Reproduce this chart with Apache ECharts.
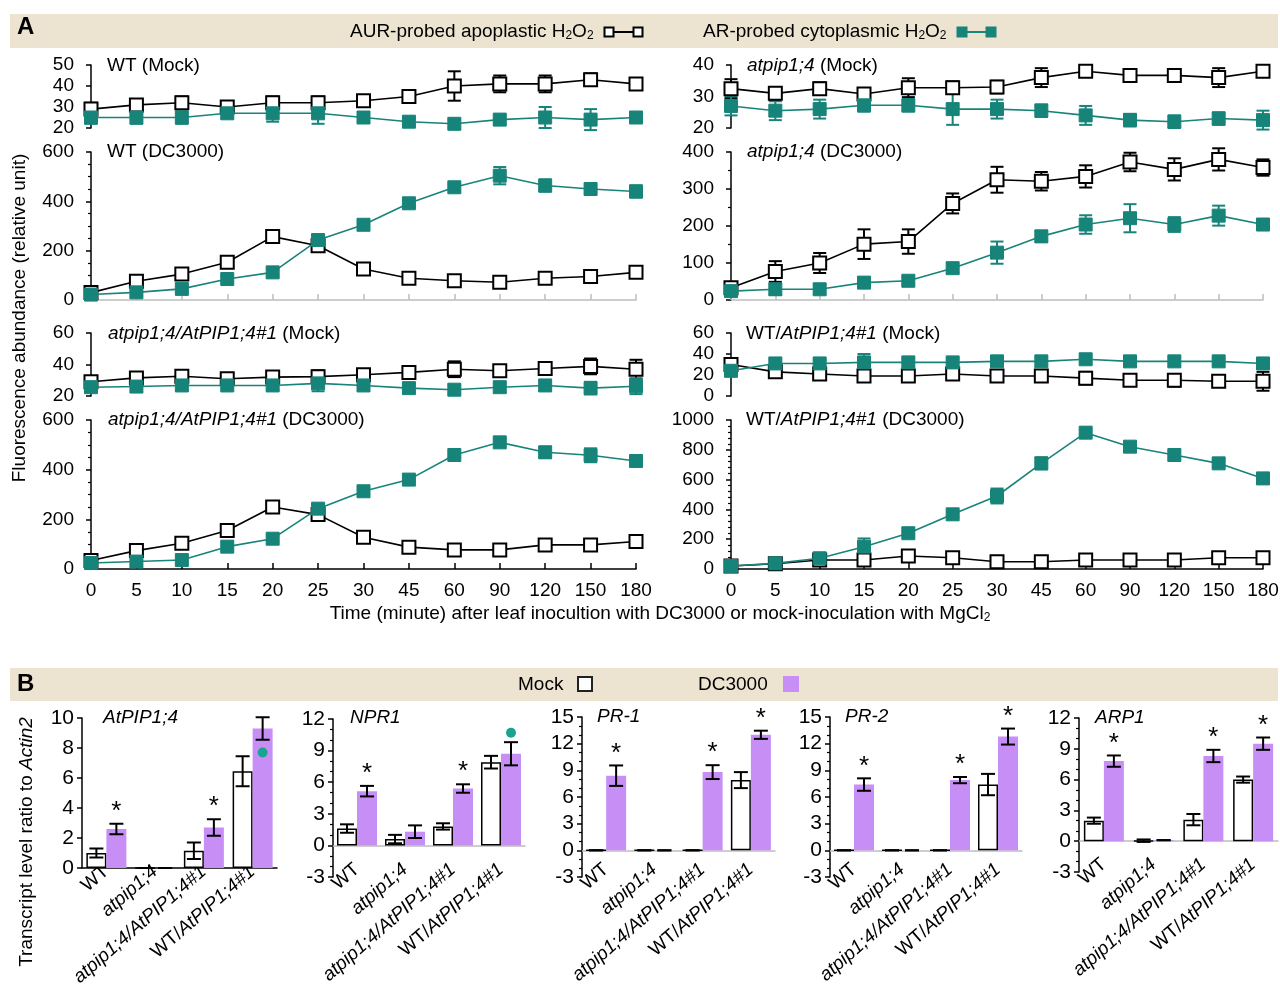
<!DOCTYPE html>
<html>
<head>
<meta charset="utf-8">
<title>H2O2 time course and defense gene transcripts</title>
<script src="https://cdn.jsdelivr.net/npm/echarts@6/dist/echarts.min.js"></script>
<style>
  html, body { margin: 0; padding: 0; background: #fff; }
  #main { width: 1280px; height: 996px; }
</style>
</head>
<body>
<div id="main"></div>
<script>
// ---- A: time points (minute) ----
const times = ['0', '5', '10', '15', '20', '25', '30', '45', '60', '90', '120', '150', '180'];

// AUR = apoplastic H2O2 (open squares), AR = cytoplasmic H2O2 (teal squares)
const wtMockAur = [29, 31, 32, 30, 32, 32, 33, 35, 40, 41, 41, 43, 41];
const wtMockAurSd = [3, 2, 3, 1, 3, 3, 2, 2, 7, 4, 4, 3, 2];
const wtMockAr = [25, 25, 25, 27, 27, 27, 25, 23, 22, 24, 25, 24, 25];
const wtMockArSd = [3, 3, 3, 2, 4, 5, 2, 2, 2, 2, 5, 5, 2];

const atMockAur = [32.5, 31, 32.5, 30.8, 32.8, 32.8, 33, 36, 38, 36.7, 36.7, 36, 38];
const atMockAurSd = [3, 2, 2, 1, 3, 2, 2, 3, 1, 1, 1, 3, 1];
const atMockAr = [27, 25.5, 26, 27.2, 27.2, 26, 26, 25.5, 24, 22.5, 22, 23, 22.5];
const atMockArSd = [3, 3, 3, 2, 2, 5, 3, 2, 3, 2, 2, 2, 3];

const wtDcAur = [30, 76, 105, 153, 257, 220, 126, 88, 78, 72, 88, 95, 112];
const wtDcAurSd = [10, 10, 15, 12, 12, 12, 20, 12, 10, 15, 10, 10, 15];
const wtDcAr = [22, 31, 45, 85, 112, 243, 305, 392, 457, 504, 464, 450, 440];
const wtDcArSd = [10, 12, 12, 12, 12, 15, 20, 15, 12, 35, 25, 15, 25];

const atDcAur = [33, 77, 100, 151, 158, 261, 325, 321, 334, 373, 353, 380, 358];
const atDcAurSd = [10, 28, 27, 40, 33, 27, 35, 25, 30, 25, 30, 30, 22];
const atDcAr = [24, 29, 29, 47, 52, 86, 128, 172, 204, 221, 204, 228, 204];
const atDcArSd = [12, 15, 12, 10, 10, 12, 30, 15, 25, 38, 20, 27, 15];

const compMockAur = [29, 31.5, 32.5, 31, 32, 32.3, 33.5, 35, 37, 36, 37.5, 38.8, 37];
const compMockAurSd = [3, 3, 3, 3, 2, 4, 3, 3, 5, 3, 4, 5, 6];
const compMockAr = [25.6, 26, 26.7, 26.7, 26.7, 28, 26.7, 25, 24, 25.6, 26.7, 25, 26.2];
const compMockArSd = [3, 3, 3, 2, 3, 5, 3, 3, 3, 3, 3, 4, 5];

const oeMockAur = [30, 23, 21, 19, 19, 21, 19, 19, 17, 15, 15, 14, 14];
const oeMockAurSd = [5, 3, 3, 3, 3, 3, 3, 5, 6, 3, 6, 3, 9];
const oeMockAr = [24, 31, 31, 32, 32, 32, 33, 33, 35, 33, 33, 33, 31];
const oeMockArSd = [5, 4, 4, 8, 4, 4, 4, 4, 3, 3, 4, 3, 5];

const compDcAur = [34, 74, 104, 155, 250, 219, 128, 88, 77, 77, 97, 97, 111];
const compDcAurSd = [8, 10, 10, 10, 10, 10, 10, 8, 8, 8, 8, 8, 8];
const compDcAr = [24, 30, 36, 90, 122, 243, 313, 360, 459, 510, 470, 458, 435];
const compDcArSd = [10, 12, 15, 12, 12, 12, 12, 12, 10, 12, 22, 28, 18];

const oeDcAur = [20, 35, 60, 60, 87, 76, 49, 49, 60, 60, 60, 76, 76];
const oeDcAurSd = [10, 10, 12, 10, 12, 12, 10, 10, 10, 10, 12, 12, 25];
const oeDcAr = [20, 38, 72, 150, 240, 367, 490, 709, 915, 821, 765, 709, 608];
const oeDcArSd = [15, 15, 20, 55, 15, 15, 50, 40, 20, 25, 25, 25, 20];

// ---- B: transcript level ratio to Actin2 ----
const genotypes = ['WT', 'atpip1;4', 'atpip1;4/AtPIP1;4#1', 'WT/AtPIP1;4#1'];

const pipMock = [1.0, 0, 1.15, 6.45];
const pipMockSd = [0.3, 0, 0.55, 1.0];
const pipDc = [2.6, 0, 2.7, 9.3];
const pipDcSd = [0.35, 0, 0.55, 0.75];
const pipStar = [1, 0, 1, 0];
const pipDot = [null, null, null, 7.7];

const nprMock = [1.6, 0.6, 1.8, 7.9];
const nprMockSd = [0.4, 0.4, 0.3, 0.6];
const nprDc = [5.15, 1.3, 5.4, 8.7];
const nprDcSd = [0.5, 0.6, 0.4, 1.1];
const nprStar = [1, 0, 1, 0];
const nprDot = [null, null, null, 10.7];

const pr1Mock = [0, 0, 0, 7.9];
const pr1MockSd = [0, 0, 0, 0.9];
const pr1Dc = [8.4, 0, 8.8, 13.0];
const pr1DcSd = [1.15, 0, 0.78, 0.46];
const pr1Star = [1, 0, 1, 1];

const pr2Mock = [0, 0, 0, 7.4];
const pr2MockSd = [0, 0, 0, 1.2];
const pr2Dc = [7.4, 0, 7.9, 12.8];
const pr2DcSd = [0.7, 0, 0.35, 0.9];
const pr2Star = [1, 0, 1, 1];

const arpMock = [2.0, 0.05, 2.1, 6.0];
const arpMockSd = [0.3, 0.12, 0.55, 0.3];
const arpDc = [7.8, 0.1, 8.3, 9.5];
const arpDcSd = [0.55, 0, 0.6, 0.6];
const arpStar = [1, 0, 1, 1];

const TEAL = '#17847a';
const PURPLE = '#c78ff6';
const BEIGE = '#ece4d1';
const GREY = '#bdbdbd';
const FONT = '"Liberation Sans", Arial, sans-serif';

const grids = [], xAxes = [], yAxes = [], series = [];

function errSeries(i, mean, sd, color, dx, cap, stars, dots) {
  return {
    type: 'custom', xAxisIndex: i, yAxisIndex: i, z: 5, silent: true, clip: false,
    data: mean.map((m, k) => [k, m, sd[k]]),
    renderItem: function (params, api) {
      const k = api.value(0), m = api.value(1), s = api.value(2);
      const hi = api.coord([k, m + s]);
      const lo = api.coord([k, m - s]);
      const x = hi[0] + dx, w = cap / 2;
      const st = { stroke: color, lineWidth: 2 };
      const kids = [
        { type: 'line', shape: { x1: x, y1: hi[1], x2: x, y2: lo[1] }, style: st },
        { type: 'line', shape: { x1: x - w, y1: hi[1], x2: x + w, y2: hi[1] }, style: st },
        { type: 'line', shape: { x1: x - w, y1: lo[1], x2: x + w, y2: lo[1] }, style: st }
      ];
      const idx = params.dataIndex;
      if (stars && stars[idx]) {
        kids.push({ type: 'text', x: x, y: hi[1] - 12,
          style: { text: '*', fontSize: 26, fontFamily: FONT, fill: '#000', align: 'center', verticalAlign: 'middle' } });
      }
      if (dots && dots[idx] != null) {
        const p = api.coord([k, dots[idx]]);
        kids.push({ type: 'circle', shape: { cx: x, cy: p[1], r: 5 }, style: { fill: '#1aa391' } });
      }
      return { type: 'group', children: kids };
    }
  };
}

function lineSeries(i, data, open) {
  return {
    type: 'line', xAxisIndex: i, yAxisIndex: i, data: data, z: open ? 6 : 7, silent: true,
    symbol: 'rect', symbolSize: 13,
    lineStyle: { color: open ? '#000' : TEAL, width: 1.6 },
    itemStyle: open
      ? { color: '#fff', borderColor: '#000', borderWidth: 2 }
      : { color: TEAL, borderColor: TEAL, borderWidth: 1 }
  };
}

function addGrid(box) {
  grids.push({ left: box[0], top: box[1], width: box[2], height: box[3], containLabel: false, outerBoundsMode: 'none' });
  return grids.length - 1;
}

// xMode: 'none' (mock rows), 'grey' (upper DC rows), 'label' (bottom rows)
function linePanel(box, ymin, ymax, step, minor, xMode, aur, aurSd, ar, arSd) {
  const i = addGrid(box);
  const axCol = xMode === 'label' ? '#000' : GREY;
  xAxes.push({
    gridIndex: i, type: 'category', data: times, boundaryGap: false, show: xMode !== 'none',
    axisLine: { lineStyle: { color: axCol, width: 1.5 } },
    axisTick: { inside: true, length: 6, lineStyle: { color: axCol, width: 1.5 } },
    axisLabel: { show: xMode === 'label', color: '#000', fontSize: 19, fontFamily: FONT, margin: 12 },
    splitLine: { show: false }
  });
  yAxes.push({
    gridIndex: i, type: 'value', min: ymin, max: ymax, interval: step,
    axisLine: { show: true, lineStyle: { color: '#000', width: 1.5 } },
    axisTick: { show: true, length: 5, lineStyle: { color: '#000', width: 1.5 } },
    minorTick: { show: minor > 0, splitNumber: minor || 5, length: 3, lineStyle: { color: '#000', width: 1.2 } },
    axisLabel: { color: '#000', fontSize: 19, fontFamily: FONT, margin: 17, formatter: v => String(v) },
    splitLine: { show: false }
  });
  series.push(errSeries(i, aur, aurSd, '#000', 0, 13));
  series.push(errSeries(i, ar, arSd, TEAL, 0, 13));
  series.push(lineSeries(i, aur, true));
  series.push(lineSeries(i, ar, false));
}

const LEFT = [91, 545], RIGHT = [731, 532];
linePanel([LEFT[0], 65, LEFT[1], 63], 20, 50, 10, 0, 'none', wtMockAur, wtMockAurSd, wtMockAr, wtMockArSd);
linePanel([RIGHT[0], 65, RIGHT[1], 63], 20, 40, 10, 0, 'none', atMockAur, atMockAurSd, atMockAr, atMockArSd);
linePanel([LEFT[0], 152, LEFT[1], 148], 0, 600, 200, 4, 'grey', wtDcAur, wtDcAurSd, wtDcAr, wtDcArSd);
linePanel([RIGHT[0], 152, RIGHT[1], 148], 0, 400, 100, 2, 'grey', atDcAur, atDcAurSd, atDcAr, atDcArSd);
linePanel([LEFT[0], 333, LEFT[1], 63], 20, 60, 20, 0, 'none', compMockAur, compMockAurSd, compMockAr, compMockArSd);
linePanel([RIGHT[0], 333, RIGHT[1], 63], 0, 60, 20, 0, 'none', oeMockAur, oeMockAurSd, oeMockAr, oeMockArSd);
linePanel([LEFT[0], 420, LEFT[1], 149], 0, 600, 200, 4, 'label', compDcAur, compDcAurSd, compDcAr, compDcArSd);
linePanel([RIGHT[0], 420, RIGHT[1], 149], 0, 1000, 200, 5, 'label', oeDcAur, oeDcAurSd, oeDcAr, oeDcArSd);

const labelRich = {
  n: { fontSize: 19, fontFamily: FONT, color: '#000' },
  i: { fontSize: 19, fontFamily: FONT, fontStyle: 'italic', color: '#000' }
};
function genoLabel(v) {
  if (v === 'WT') return '{n|WT}';
  if (v === 'WT/AtPIP1;4#1') return '{n|WT/}{i|AtPIP1;4#1}';
  return '{i|' + v + '}';
}

function barPanel(box, ymin, ymax, step, minor, mock, mockSd, dc, dcSd, stars, dots) {
  const i = addGrid(box);
  xAxes.push({
    gridIndex: i, type: 'category', data: genotypes,
    axisLine: { onZero: true, lineStyle: { color: ymin < 0 ? GREY : '#000', width: 1.5 } },
    axisTick: { length: 4, lineStyle: { color: ymin < 0 ? GREY : '#000', width: 1.5 } },
    axisLabel: { interval: 0, rotate: 41, margin: ymin < 0 ? -10 : 1, formatter: genoLabel, rich: labelRich },
    splitLine: { show: false }
  });
  yAxes.push({
    gridIndex: i, type: 'value', min: ymin, max: ymax, interval: step,
    axisLine: { show: true, onZero: false, lineStyle: { color: '#000', width: 1.5 } },
    axisTick: { show: true, length: 5, lineStyle: { color: '#000', width: 1.5 } },
    minorTick: { show: minor > 0, splitNumber: minor || 5, length: 3, lineStyle: { color: '#000', width: 1.2 } },
    axisLabel: { color: '#000', fontSize: 21, fontFamily: FONT, margin: 8 },
    splitLine: { show: false }
  });
  series.push({
    type: 'bar', xAxisIndex: i, yAxisIndex: i, data: mock, barWidth: 20, barGap: '0%', silent: true,
    itemStyle: { color: '#fff', borderColor: '#000', borderWidth: 1.5 }
  });
  series.push({
    type: 'bar', xAxisIndex: i, yAxisIndex: i, data: dc, barWidth: 20, barGap: '0%', silent: true,
    itemStyle: { color: PURPLE }
  });
  series.push(errSeries(i, mock, mockSd, '#000', -10, 14));
  series.push(errSeries(i, dc, dcSd, '#000', 10, 14, stars, dots));
}

barPanel([82, 718, 195, 150], 0, 10, 2, 0, pipMock, pipMockSd, pipDc, pipDcSd, pipStar, pipDot);
barPanel([333, 719, 192, 158], -3, 12, 3, 3, nprMock, nprMockSd, nprDc, nprDcSd, nprStar, nprDot);
barPanel([582, 717, 193, 160], -3, 15, 3, 3, pr1Mock, pr1MockSd, pr1Dc, pr1DcSd, pr1Star, null);
barPanel([830, 717, 192, 160], -3, 15, 3, 3, pr2Mock, pr2MockSd, pr2Dc, pr2DcSd, pr2Star, null);
barPanel([1079, 718, 199, 154], -3, 12, 3, 3, arpMock, arpMockSd, arpDc, arpDcSd, arpStar, null);

// ---- text, banners and legends ----
const R = {
  n: { fontSize: 19, fontFamily: FONT, fill: '#000' },
  i: { fontSize: 19, fontFamily: FONT, fontStyle: 'italic', fill: '#000' },
  s: { fontSize: 12, fontFamily: FONT, fill: '#000', verticalAlign: 'bottom' }
};
function text(x, y, str, extra) {
  return {
    type: 'text', x: x, y: y, silent: true, z: 10,
    style: Object.assign({ text: str, rich: R, fontSize: 19, fontFamily: FONT, fill: '#000', verticalAlign: 'middle' }, extra || {})
  };
}
function square(x, y, size, fill, stroke) {
  return { type: 'rect', silent: true, z: 11, shape: { x: x - size / 2, y: y - size / 2, width: size, height: size },
    style: { fill: fill, stroke: stroke, lineWidth: 2 } };
}

const graphics = [
  { type: 'rect', silent: true, z: 0, shape: { x: 10, y: 14, width: 1268, height: 34 }, style: { fill: BEIGE } },
  { type: 'rect', silent: true, z: 0, shape: { x: 10, y: 668, width: 1268, height: 33 }, style: { fill: BEIGE } },
  text(17, 27, 'A', { fontSize: 24, fontWeight: 'bold' }),
  text(17, 684, 'B', { fontSize: 24, fontWeight: 'bold' }),
  text(350, 32, 'AUR-probed apoplastic H{s|2}O{s|2}'),
  { type: 'line', silent: true, z: 10, shape: { x1: 609, y1: 32, x2: 638, y2: 32 }, style: { stroke: '#000', lineWidth: 2 } },
  square(609, 32, 9, '#fff', '#000'),
  square(638, 32, 9, '#fff', '#000'),
  text(703, 32, 'AR-probed cytoplasmic H{s|2}O{s|2}'),
  { type: 'line', silent: true, z: 10, shape: { x1: 962, y1: 32, x2: 991, y2: 32 }, style: { stroke: TEAL, lineWidth: 2 } },
  square(962, 32, 9, TEAL, TEAL),
  square(991, 32, 9, TEAL, TEAL),
  text(518, 685, 'Mock'),
  square(585, 684, 14, '#fff', '#222'),
  text(698, 685, 'DC3000'),
  { type: 'rect', silent: true, z: 11, shape: { x: 783, y: 676, width: 16, height: 16 }, style: { fill: PURPLE } },

  text(107, 66, 'WT (Mock)'),
  text(107, 152, 'WT (DC3000)'),
  text(108, 334, '{i|atpip1;4/AtPIP1;4#1} (Mock)'),
  text(108, 420, '{i|atpip1;4/AtPIP1;4#1} (DC3000)'),
  text(747, 66, '{i|atpip1;4} (Mock)'),
  text(747, 152, '{i|atpip1;4} (DC3000)'),
  text(746, 334, 'WT/{i|AtPIP1;4#1} (Mock)'),
  text(746, 420, 'WT/{i|AtPIP1;4#1} (DC3000)'),

  text(103, 718, '{i|AtPIP1;4}'),
  text(350, 718, '{i|NPR1}'),
  text(597, 717, '{i|PR-1}'),
  text(845, 717, '{i|PR-2}'),
  text(1095, 718, '{i|ARP1}'),

  text(20, 318, 'Fluorescence abundance (relative unit)', { align: 'center' }),
  text(660, 614, 'Time (minute) after leaf inocultion with DC3000 or mock-inoculation with MgCl{s|2}', { align: 'center' }),
  text(27, 842, 'Transcript level ratio to {i|Actin2}', { align: 'center' })
];
// rotate the two vertical axis titles
graphics[graphics.length - 3].rotation = Math.PI / 2;
graphics[graphics.length - 1].rotation = Math.PI / 2;

const chart = echarts.init(document.getElementById('main'), null, { renderer: 'canvas' });
chart.setOption({
  animation: false,
  backgroundColor: '#fff',
  textStyle: { fontFamily: FONT },
  grid: grids,
  xAxis: xAxes,
  yAxis: yAxes,
  series: series,
  graphic: graphics
});
</script>
</body>
</html>
